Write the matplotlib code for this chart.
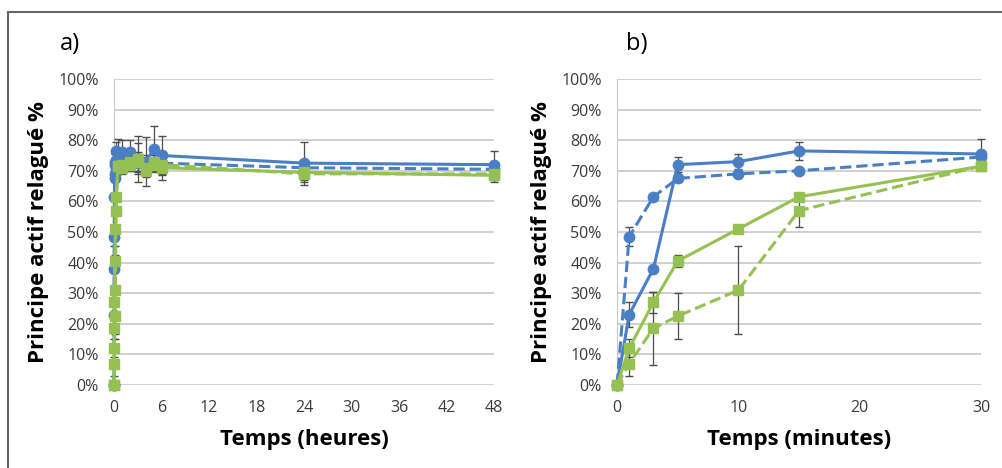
import matplotlib
matplotlib.use("Agg")

import matplotlib.pyplot as plt
from matplotlib.lines import Line2D
from matplotlib.ticker import PercentFormatter

plt.rcParams['font.family'] = ['Open Sans', 'DejaVu Sans']

# temps en minutes (panneau b) et en heures (panneau a)
t_min = [0, 1, 3, 5, 10, 15, 30]
t_h = [0, 1/60, 3/60, 5/60, 10/60, 15/60, 0.5, 1, 2, 3, 4, 5, 6, 24, 48]

# séries (% relargué) : minutes puis heures
blue_solid = [0, 23, 38, 72, 73, 76.5, 75.5, 76, 76, 74, 73, 77, 75, 72.5, 72]
blue_dash = [0, 48.5, 61.5, 67.5, 69, 70, 74.5, 73, 73, 72.5, 72, 73, 72.5, 71, 70.5]
green_solid = [0, 12, 27, 40.5, 51, 61.5, 71.5, 72, 73, 74, 70, 72, 71, 69.5, 68.5]
green_dash = [0, 7, 18.5, 22.5, 31, 57, 71.5, 71, 72, 73, 71, 73, 72, 69, 69]

blue_solid_err = [0, 4, 1, 2.5, 2.5, 3, 5, 4, 4, 7.5, 8, 7.5, 6.5, 7, 4.5]
blue_dash_err = [0, 3, 1, 1, 1, 1, 1, 3, 3, 3, 3, 3, 3, 2, 2]
green_solid_err = [0, 3, 3.5, 2, 1, 1, 1, 2, 2, 5, 2, 2, 4, 3, 2]
green_dash_err = [0, 4, 12, 7.5, 14.5, 5.5, 1, 2, 2, 3, 2, 2, 3, 2, 2]

BLUE = '#4a7fc6'
GREEN = '#95c152'
series = [
    (blue_solid, blue_solid_err, BLUE, '-', 'o', 7.5),
    (blue_dash, blue_dash_err, BLUE, '--', 'o', 7.5),
    (green_solid, green_solid_err, GREEN, '-', 's', 7.5),
    (green_dash, green_dash_err, GREEN, '--', 's', 7.5),
]

fig = plt.figure(figsize=(10.03, 4.68), dpi=100)
ax_a = fig.add_axes([0.1137, 0.1774, 0.3789, 0.6538])
ax_b = fig.add_axes([0.6152, 0.1774, 0.3629, 0.6538])

n = len(t_min)
for vals, err, col, ls, mk, ms in series:
    ax_a.errorbar(t_h, vals, yerr=err, color=col, ls=ls, lw=2.2, marker=mk,
                  ms=ms, ecolor='#4d4d4d', elinewidth=0.9, capsize=2.8,
                  zorder=3, clip_on=False)
    ax_b.errorbar(t_min, vals[:n], yerr=err[:n], color=col, ls=ls, lw=2.2,
                  marker=mk, ms=ms, ecolor='#4d4d4d', elinewidth=0.9,
                  capsize=2.8, zorder=3, clip_on=False)

for ax in (ax_a, ax_b):
    ax.set_ylim(0, 100)
    ax.set_yticks(range(0, 101, 10))
    ax.yaxis.set_major_formatter(PercentFormatter(decimals=0))
    ax.grid(axis='y', color='#c8c8c8', lw=1.2)
    ax.set_axisbelow(True)
    for s in ('top', 'right', 'bottom'):
        ax.spines[s].set_visible(False)
    ax.spines['left'].set_color('#c8c8c8')
    ax.tick_params(length=0, labelsize=11.5, labelcolor='#3a3a3a', pad=11)
    ax.set_ylabel('Principe actif relagué %', fontsize=16,
                  fontweight='bold', labelpad=7)

ax_a.set_xlim(0, 48)
ax_a.set_xticks(range(0, 49, 6))
ax_a.set_xlabel('Temps (heures)', fontsize=16, fontweight='bold', labelpad=9)
ax_b.set_xlim(0, 30)
ax_b.set_xticks([0, 10, 20, 30])
ax_b.set_xlabel('Temps (minutes)', fontsize=16, fontweight='bold', labelpad=9)

fig.text(0.06, 0.905, 'a)', fontsize=17, va='center')
fig.text(0.624, 0.905, 'b)', fontsize=17, va='center')

# cadre extérieur
fig.add_artist(Line2D([0.008, 1.0], [0.974, 0.974], color='#666666', lw=1.5))
fig.add_artist(Line2D([0.008, 0.008], [0.0, 0.974], color='#666666', lw=1.5))

fig.savefig('out.png', dpi=100)
plt.close(fig)
